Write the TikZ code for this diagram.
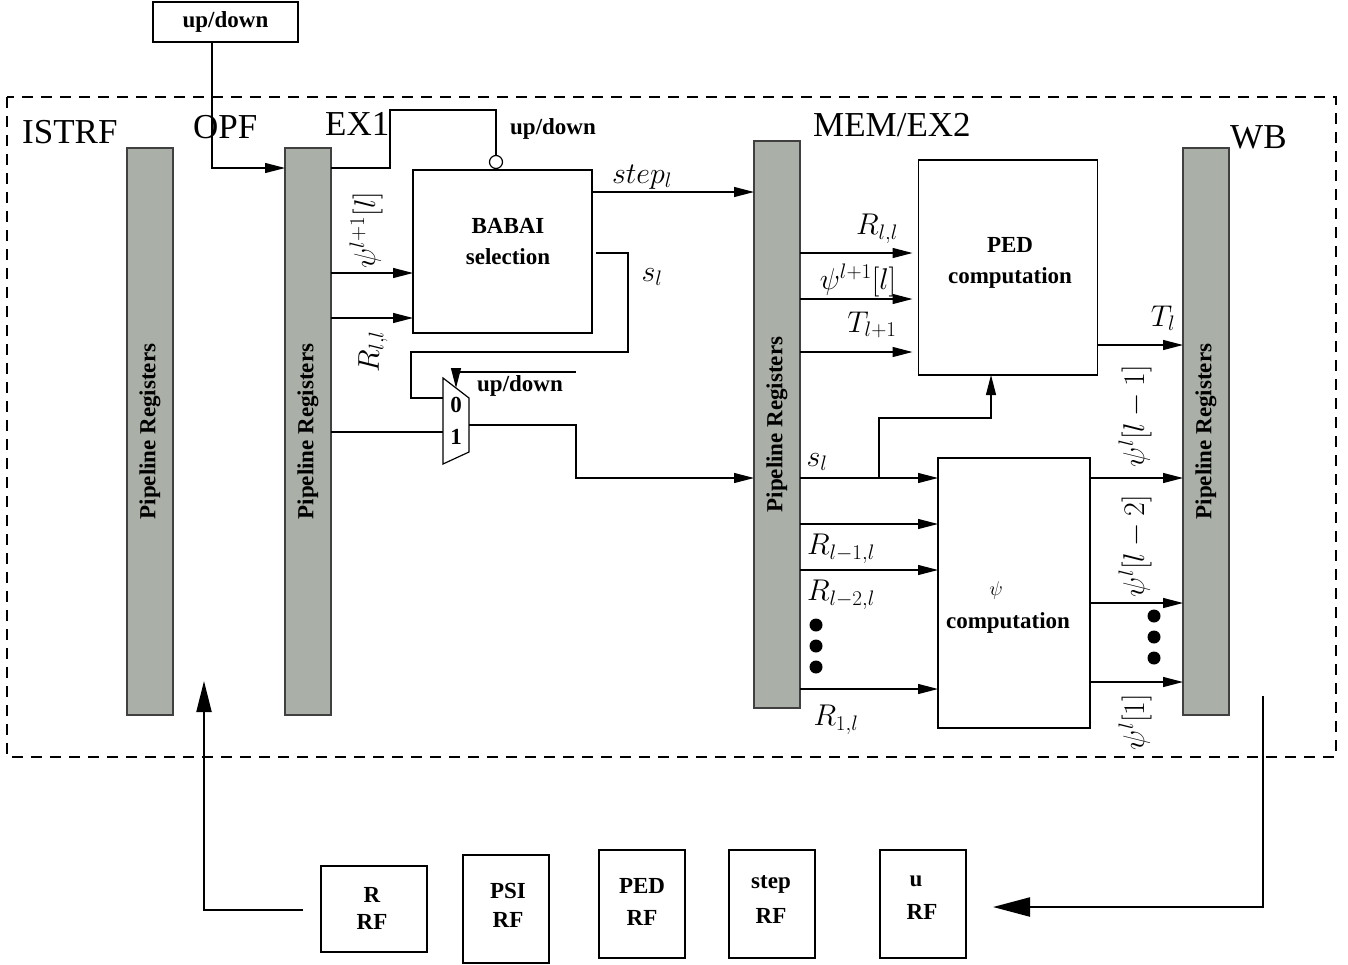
\documentclass[tikz,border=0pt]{standalone}
\usepackage{fix-cm}
\usepackage{fontspec}
\setmainfont{Liberation Serif}
\usetikzlibrary{arrows.meta,calc}
\definecolor{reggray}{RGB}{170,176,168}
\begin{document}
\begin{tikzpicture}[x=1pt,y=-1pt,
  reg/.style={draw=black!75, fill=reggray, line width=1.3pt, inner sep=0pt, outer sep=0pt, minimum width=46pt, minimum height=567pt,
    font=\fontsize{23}{27}\selectfont\bfseries},
  blk/.style={draw, line width=1.3pt, inner sep=0pt, outer sep=0pt},
  rfbox/.style={blk},
  wire/.style={line width=1.2pt},
  arr/.style={line width=1.2pt, -{Triangle[length=20pt,width=10pt]}},
  bigarr/.style={line width=2.2pt},
  bl/.style={font=\fontsize{23}{27}\selectfont\bfseries, inner sep=0pt},
  stg/.style={font=\fontsize{35}{40}\selectfont, inner sep=0pt, anchor=base west},
  ml/.style={font=\fontsize{30}{34}\selectfont, inner sep=0pt},
  dotc/.style={circle, fill=black, inner sep=0pt, minimum size=13pt}
]
\useasboundingbox (0,0) rectangle (1348,964);

% dashed pipeline frame
\draw[line width=1.1pt, dash pattern=on 11pt off 8pt] (7,97) rectangle (1336,757);

% stage labels
\node[stg] (sistrf) at (22,143) {ISTRF};
\node[stg] (sopf) at (193,138) {OPF};
\node[stg] (sex1) at (325,135) {EX1};
\node[stg] (smem) at (813,136) {MEM/EX2};
\node[stg] (swb) at (1230,148) {WB};

% pipeline registers
\node[reg] (pr1) at (150,431.5) {\rotatebox{90}{Pipeline Registers}};
\node[reg] (pr2) at (308,431.5) {\rotatebox{90}{Pipeline Registers}};
\node[reg] (pr3) at (777,424.5) {\rotatebox{90}{Pipeline Registers}};
\node[reg] (pr4) at (1206,431.5) {\rotatebox{90}{Pipeline Registers}};

% top up/down box
\node[blk, minimum width=145pt, minimum height=40pt, font=\fontsize{23}{27}\selectfont\bfseries] (ud) at (225.5,22) {up/down};
\coordinate (udo) at ([xshift=-13.5pt]ud.south);
\draw[arr] (udo) |- ([yshift=-20pt]pr2.north west);

% BABAI selection
\node[blk, minimum width=179pt, minimum height=163pt] (babai) at (502.5,251.5) {};
\node[bl, align=center, font=\fontsize{23}{31}\selectfont\bfseries] (babait) at (508,242) {BABAI\\selection};
\node[circle, draw, line width=1.2pt, minimum size=13pt, inner sep=0pt] (bub) at (496,162) {};
\draw[wire] ([yshift=-20pt]pr2.north east) -- (390,168) -- (390,110) -| (bub.north);
\node[bl] (udlbl1) at (553,129) {up/down};

\draw[arr] (pr2.east |- 0,273) -- (babai.west |- 0,273);
\draw[arr] (pr2.east |- 0,318) -- (babai.west |- 0,318);
\node[ml, rotate=90] (lpsi1) at (366,230) {$\psi^{l+1}[l]$};
\node[ml, rotate=90] (lr1) at (373,352) {$R_{l,l}$};

\draw[arr] (babai.east |- 0,192) -- (pr3.west |- 0,192);
\node[ml] (lstep) at (642,177) {$step_l$};
\node[ml] (lsl1) at (652,277) {$s_l$};

% multiplexer
\coordinate (m1) at (443,378);
\coordinate (m2) at (469,398);
\coordinate (m3) at (469,452);
\coordinate (m4) at (443,464);
\draw[line width=1.2pt] (m1) -- (m2) -- (m3) -- (m4) -- cycle;
\node[bl] (mux0) at (456,405) {0};
\node[bl] (mux1) at (456,437) {1};
\coordinate (muxin0) at (443,398);
\coordinate (muxin1) at (443,432);
\coordinate (muxout) at (469,425);
\coordinate (muxsel) at (456,388);
\coordinate (selsrc) at (576,372);
\coordinate (slout) at (596,253);

\draw[wire] (slout) -- (628,253) -- (628,352) -- (411,352) -- (411,398) -- (muxin0);
\draw[wire] (pr2.east |- muxin1) -- (muxin1);
\draw[arr] (muxout) -- (576,425) -- (576,478) -- (pr3.west |- 0,478);
\draw[arr] (selsrc) -- (456,372) -- (muxsel);
\node[bl] (udlbl2) at (520,386) {up/down};

% PED computation
\node[blk, minimum width=179pt, minimum height=215pt] (ped) at (1008,267.5) {};
\node[bl, align=center, font=\fontsize{23}{31}\selectfont\bfseries] (pedt) at (1010,263) {PED\\computation};
\draw[arr] (pr3.east |- 0,253) -- ([xshift=-6pt]ped.west |- 0,253);
\draw[arr] (pr3.east |- 0,299) -- ([xshift=-6pt]ped.west |- 0,299);
\draw[arr] (pr3.east |- 0,352) -- ([xshift=-6pt]ped.west |- 0,352);
\node[ml] (lrll) at (877,229) {$R_{l,l}$};
\node[ml] (lpsi2) at (858,280) {$\psi^{l+1}[l]$};
\node[ml] (lt1) at (872,325) {$T_{l+1}$};
\draw[arr] (ped.east |- 0,345) -- (pr4.west |- 0,345);
\node[ml] (ltl) at (1163,318) {$T_l$};

% psi computation
\node[blk, minimum width=152pt, minimum height=270pt] (psi) at (1014,593) {};
\node[inner sep=0pt, font=\fontsize{20}{24}\selectfont] (psis) at (996,590) {$\psi$};
\node[bl] (psit) at (1008,623) {computation};

\coordinate (br) at (879,478);
\draw[arr] (pr3.east |- 0,478) -- (psi.west |- 0,478);
\draw[arr] (br) |- (991,418) -- (991,375);
\draw[arr] (pr3.east |- 0,524) -- (psi.west |- 0,524);
\draw[arr] (pr3.east |- 0,570) -- (psi.west |- 0,570);
\draw[arr] (pr3.east |- 0,689) -- (psi.west |- 0,689);
\node[ml] (lsl2) at (817,462) {$s_l$};
\node[ml] (lr2) at (841,549) {$R_{l-1,l}$};
\node[ml] (lr3) at (841,595) {$R_{l-2,l}$};
\node[ml] (lr4) at (836,720) {$R_{1,l}$};
\node[dotc] (d1) at (816,625) {};
\node[dotc] (d2) at (816,646) {};
\node[dotc] (d3) at (816,667) {};

\draw[arr] (psi.east |- 0,478) -- (pr4.west |- 0,478);
\draw[arr] (psi.east |- 0,603) -- (pr4.west |- 0,603);
\draw[arr] (psi.east |- 0,682) -- (pr4.west |- 0,682);
\node[ml, rotate=90] (lo1) at (1135,416) {$\psi^l[l-1]$};
\node[ml, rotate=90] (lo2) at (1135,546) {$\psi^l[l-2]$};
\node[ml, rotate=90] (lo3) at (1135,722) {$\psi^l[1]$};
\node[dotc] (e1) at (1154,616) {};
\node[dotc] (e2) at (1154,637) {};
\node[dotc] (e3) at (1154,658) {};

% register files
\node[rfbox, minimum width=106pt, minimum height=86pt] (rrf) at (374,909) {};
\node[rfbox, minimum width=86pt, minimum height=108pt] (psirf) at (506,909) {};
\node[rfbox, minimum width=86pt, minimum height=108pt] (pedrf) at (642,904) {};
\node[rfbox, minimum width=86pt, minimum height=108pt] (steprf) at (772,904) {};
\node[rfbox, minimum width=86pt, minimum height=108pt] (urf) at (923,904) {};
\node[bl] (t1a) at (372,895) {R};
\node[bl] (t1b) at (372,922) {RF};
\node[bl] (t2a) at (508,891) {PSI};
\node[bl] (t2b) at (508,920) {RF};
\node[bl] (t3a) at (642,886) {PED};
\node[bl] (t3b) at (642,918) {RF};
\node[bl] (t4a) at (771,884) {step};
\node[bl] (t4b) at (771,916) {RF};
\node[bl] (t5a) at (916,881) {u};
\node[bl] (t5b) at (922,912) {RF};

% write-back and read loops
\coordinate (wbout) at (1263,696);
\draw[bigarr, -{Triangle[length=37pt,width=19pt]}] (wbout) |- ([xshift=27pt,yshift=-3pt]urf.east);
\coordinate (opfin) at (204,681);
\draw[bigarr, -{Triangle[length=31pt,width=15pt]}] ([xshift=-18pt,yshift=-1pt]rrf.west) -| (opfin);
\end{tikzpicture}
\end{document}
